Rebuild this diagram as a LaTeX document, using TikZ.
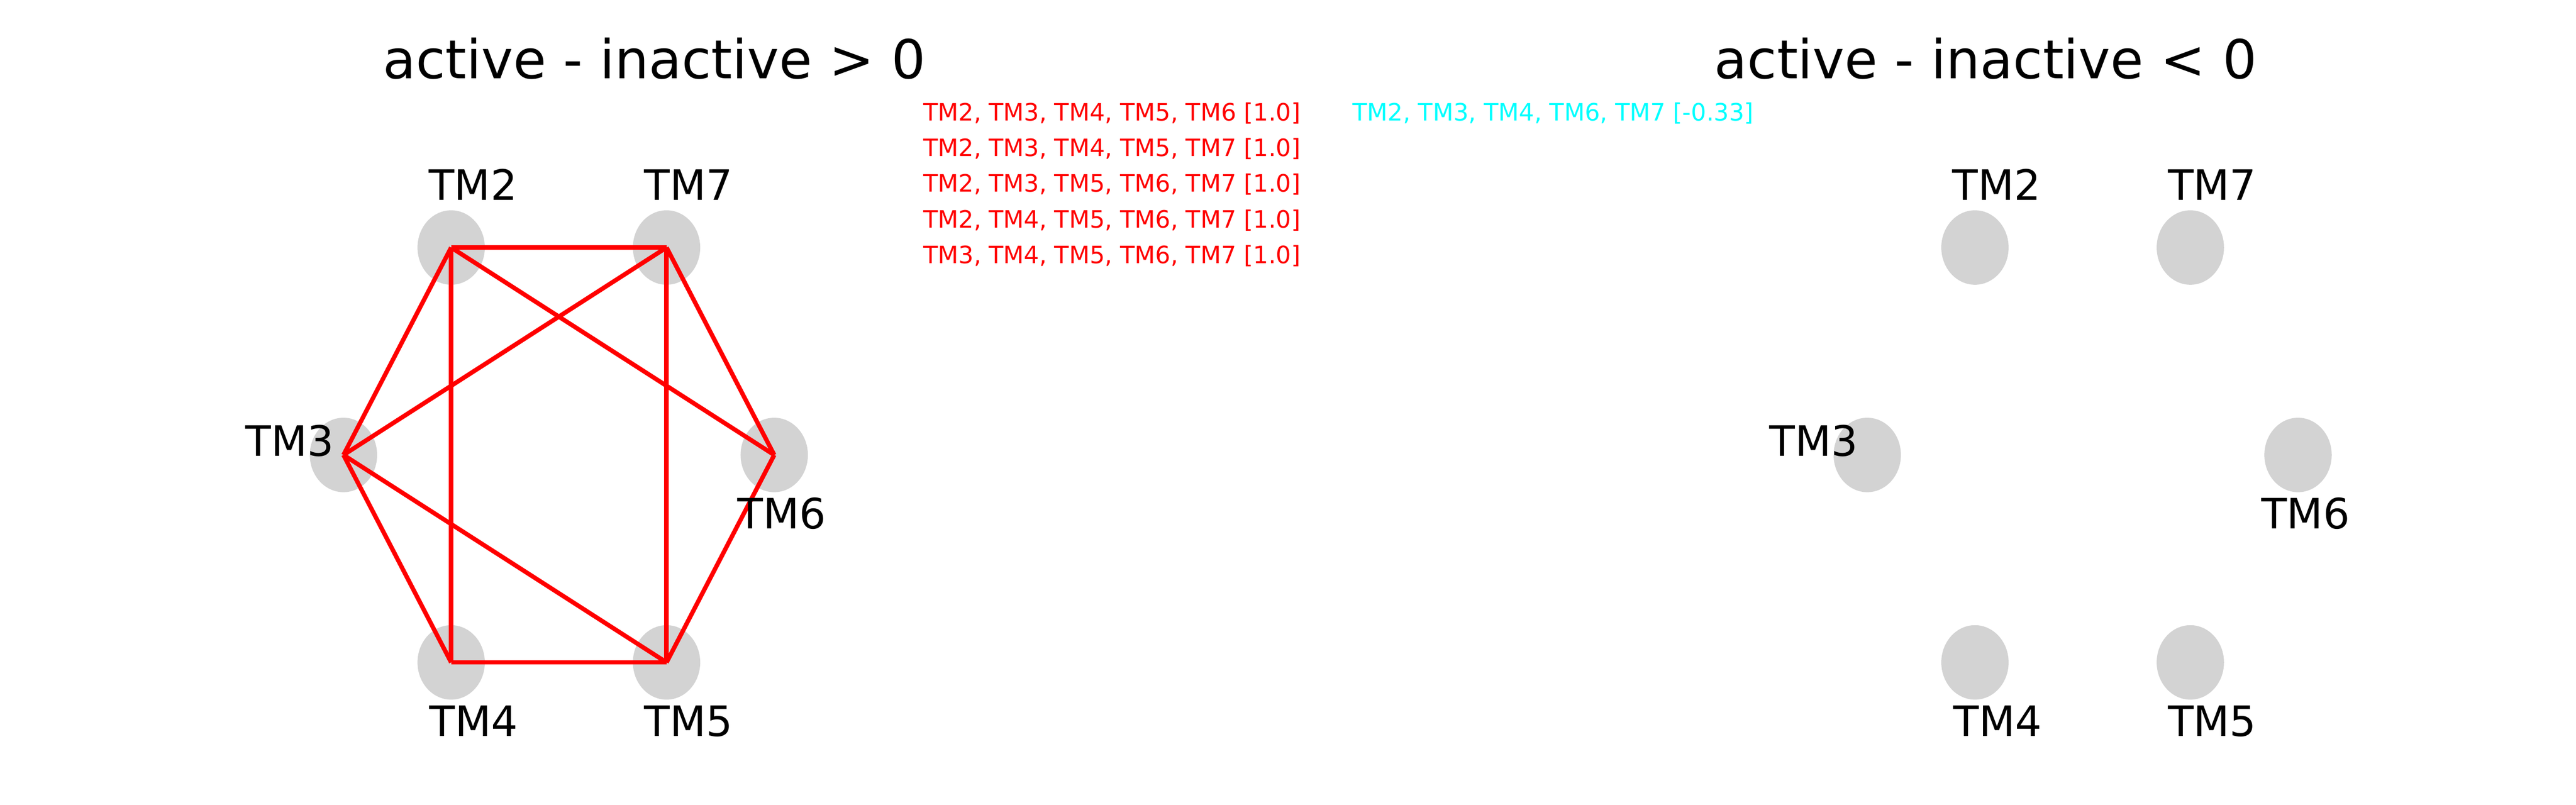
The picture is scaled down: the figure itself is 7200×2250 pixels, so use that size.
\documentclass[tikz,border=0pt]{standalone}
\usepackage{fontspec}
\setmainfont{DejaVu Sans}
\usetikzlibrary{shapes.geometric}
\definecolor{nodegray}{RGB}{211,211,211}
\definecolor{edgered}{RGB}{255,0,0}
\definecolor{listcyan}{RGB}{0,255,255}
\begin{document}
\begin{tikzpicture}[x=0.01cm,y=-0.01cm,
  tmnode/.style={ellipse, fill=nodegray, draw=none, minimum width=1.88cm, minimum height=2.08cm, inner sep=0pt},
  tmlabel/.style={anchor=base, inner sep=0pt, font=\fontsize{33.3}{40}\selectfont},
  redline/.style={draw=edgered, line width=3.5pt},
  ptitle/.style={anchor=base, inner sep=0pt, font=\fontsize{42.7}{50}\selectfont},
  listitem/.style={anchor=base west, inner sep=0pt, font=\fontsize{19}{23}\selectfont}]
\useasboundingbox[fill=white] (0,0) rectangle (7200,2250);

% titles
\node[ptitle] (t1) at (1829,220) {active - inactive > 0};
\node[ptitle] (t2) at (5550,220) {active - inactive < 0};

% lists
\node[listitem, text=edgered] (p1) at (2580,337) {TM2, TM3, TM4, TM5, TM6 [1.0]};
\node[listitem, text=edgered] (p2) at (2580,437) {TM2, TM3, TM4, TM5, TM7 [1.0]};
\node[listitem, text=edgered] (p3) at (2580,537) {TM2, TM3, TM5, TM6, TM7 [1.0]};
\node[listitem, text=edgered] (p4) at (2580,637) {TM2, TM4, TM5, TM6, TM7 [1.0]};
\node[listitem, text=edgered] (p5) at (2580,736) {TM3, TM4, TM5, TM6, TM7 [1.0]};
\node[listitem, text=listcyan] (n1) at (3780,337) {TM2, TM3, TM4, TM6, TM7 [-0.33]};

% left panel nodes
\node[tmnode] (L2) at (1261,692) {};
\node[tmnode] (L7) at (1863,692) {};
\node[tmnode] (L3) at (960,1272) {};
\node[tmnode] (L6) at (2164,1272) {};
\node[tmnode] (L4) at (1261,1852) {};
\node[tmnode] (L5) at (1863,1852) {};

% right panel nodes
\node[tmnode] (R2) at (5520,692) {};
\node[tmnode] (R7) at (6122,692) {};
\node[tmnode] (R3) at (5219,1272) {};
\node[tmnode] (R6) at (6423,1272) {};
\node[tmnode] (R4) at (5520,1852) {};
\node[tmnode] (R5) at (6122,1852) {};

% left panel edges
\draw[redline] (L2.center) -- (L7.center);
\draw[redline] (L2.center) -- (L3.center);
\draw[redline] (L2.center) -- (L4.center);
\draw[redline] (L2.center) -- (L6.center);
\draw[redline] (L7.center) -- (L3.center);
\draw[redline] (L7.center) -- (L5.center);
\draw[redline] (L7.center) -- (L6.center);
\draw[redline] (L3.center) -- (L4.center);
\draw[redline] (L3.center) -- (L5.center);
\draw[redline] (L4.center) -- (L5.center);
\draw[redline] (L6.center) -- (L5.center);

% labels left
\node[tmlabel] (lL2) at (1322,559) {TM2};
\node[tmlabel] (lL7) at (1924,559) {TM7};
\node[tmlabel] (lL3) at (810,1275) {TM3};
\node[tmlabel] (lL6) at (2185,1478) {TM6};
\node[tmlabel] (lL4) at (1324,2059) {TM4};
\node[tmlabel] (lL5) at (1924,2059) {TM5};

% labels right
\node[tmlabel] (lR2) at (5581,559) {TM2};
\node[tmlabel] (lR7) at (6183,559) {TM7};
\node[tmlabel] (lR3) at (5069,1275) {TM3};
\node[tmlabel] (lR6) at (6444,1478) {TM6};
\node[tmlabel] (lR4) at (5583,2059) {TM4};
\node[tmlabel] (lR5) at (6183,2059) {TM5};
\end{tikzpicture}
\end{document}
